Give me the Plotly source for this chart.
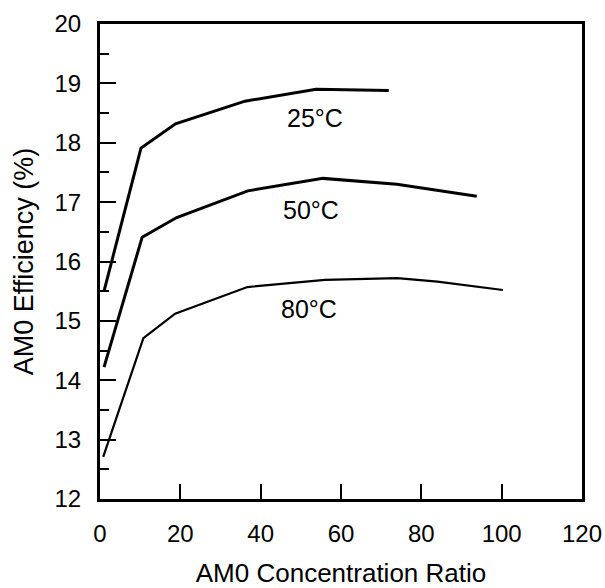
import plotly.graph_objects as go

# Data
x_25 = [1, 10.2, 18.8, 36.1, 53.8, 71.9]
y_25 = [15.5, 17.91, 18.32, 18.70, 18.90, 18.88]

x_50 = [1, 10.5, 19.1, 36.8, 55.5, 73.9, 93.8]
y_50 = [14.22, 16.41, 16.74, 17.19, 17.40, 17.30, 17.10]

x_80 = [0.8, 10.8, 18.7, 36.7, 56, 74, 84, 100.3]
y_80 = [12.71, 14.71, 15.12, 15.57, 15.69, 15.72, 15.66, 15.52]

labels = ["25°C", "50°C", "80°C"]
label_x = [53.6, 52.6, 52.0]
label_y = [18.41, 16.86, 15.20]

x_ticks = [0, 20, 40, 60, 80, 100, 120]
y_ticks = [12, 13, 14, 15, 16, 17, 18, 19, 20]

FONT = "Liberation Sans, Arial, Helvetica, sans-serif"

fig = go.Figure()
fig.add_trace(go.Scatter(x=x_25, y=y_25, mode="lines",
                         line=dict(color="black", width=3), showlegend=False))
fig.add_trace(go.Scatter(x=x_50, y=y_50, mode="lines",
                         line=dict(color="black", width=3), showlegend=False))
fig.add_trace(go.Scatter(x=x_80, y=y_80, mode="lines",
                         line=dict(color="black", width=2.2), showlegend=False))

for t, xx, yy in zip(labels, label_x, label_y):
    fig.add_annotation(x=xx, y=yy, text=t, showarrow=False,
                       font=dict(family=FONT, size=25, color="black"),
                       xanchor="center", yanchor="middle")

fig.update_xaxes(range=[0, 120], tickvals=x_ticks, ticktext=[str(v) for v in x_ticks],
                 ticks="inside", ticklen=15, tickwidth=2, tickcolor="black",
                 showline=True, linewidth=3, linecolor="black", mirror=True,
                 showgrid=False, zeroline=False, automargin=False,
                 tickfont=dict(family=FONT, size=24, color="black"),
                 ticklabelstandoff=11,
                 title=dict(text="AM0 Concentration Ratio", standoff=20,
                            font=dict(family=FONT, size=26, color="black")))
fig.update_yaxes(range=[12, 20], tickvals=y_ticks, ticktext=[str(v) for v in y_ticks],
                 ticks="inside", ticklen=16, tickwidth=2, tickcolor="black",
                 minor=dict(dtick=0.5, ticks="inside", ticklen=9, tickwidth=2,
                            tickcolor="black", showgrid=False),
                 showline=True, linewidth=3, linecolor="black", mirror=True,
                 showgrid=False, zeroline=False, automargin=False,
                 tickfont=dict(family=FONT, size=24, color="black"),
                 ticklabelstandoff=11,
                 title=dict(text="AM0 Efficiency (%)", standoff=14,
                            font=dict(family=FONT, size=27, color="black")))

fig.update_layout(width=605, height=588,
                  margin=dict(l=100, r=23, t=24, b=89),
                  plot_bgcolor="white", paper_bgcolor="white")

fig.write_html("out.html")
